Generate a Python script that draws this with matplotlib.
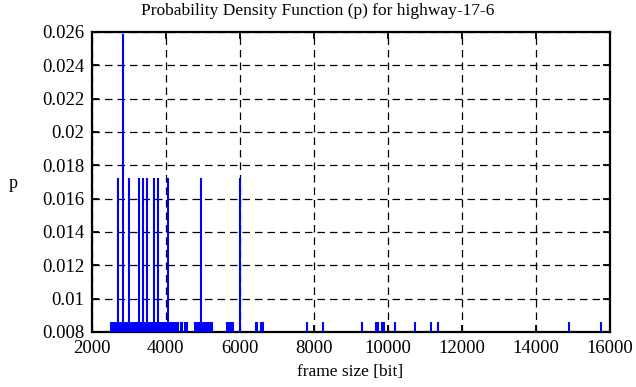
import matplotlib
matplotlib.use("Agg")
import matplotlib.pyplot as plt

title = "Probability Density Function (p) for highway-17-6"
xlabel = "frame size [bit]"
ylabel = "p"

# frame sizes [bit] by probability level
p_levels = [0.00862, 0.01724, 0.02586]
sizes_single = [2530, 2560, 2590, 2620, 2650, 2680, 2740, 2770,
                2790, 2815, 2870, 2900, 2930, 2960, 3030, 3060, 3090, 3120, 3150, 3190,
                3265, 3300, 3330, 3360, 3420, 3450, 3520, 3550, 3580, 3610, 3640,
                3710, 3740, 3770, 3840, 3870, 3895,
                3945, 3975, 4005, 4035, 4090, 4120, 4150, 4180, 4210, 4240, 4270, 4300, 4330,
                4420, 4450, 4540, 4585,
                4800, 4830, 4860, 4890, 4920, 4975, 5025, 5075,
                5135, 5165, 5195, 5225, 5250, 5675, 5715, 5775, 5820,
                6450, 6480, 6580, 6610, 6640,
                7817, 8249, 9312, 9685, 9715, 9750, 9862, 9912, 10195, 10736,
                11177, 11358, 14899, 15764]
sizes_double = [2708, 3000, 3284, 3392, 3487, 3676, 3803, 4060, 4952, 6014]
sizes_triple = [2843]

xticks = [2000, 4000, 6000, 8000, 10000, 12000, 14000, 16000]
yticks = [0.008, 0.01, 0.012, 0.014, 0.016, 0.018, 0.02, 0.022, 0.024, 0.026]
ytick_labels = ["0.008", "0.01", "0.012", "0.014", "0.016", "0.018", "0.02",
                "0.022", "0.024", "0.026"]

plt.rcParams['font.family'] = ['Liberation Serif', 'DejaVu Serif']
fig = plt.figure(figsize=(6.36, 3.87), dpi=100)
ax = fig.add_axes([91.5 / 636, 55 / 387, 518 / 636, 300 / 387])

for sizes, p in zip([sizes_single, sizes_double, sizes_triple], p_levels):
    ax.vlines(sizes, 0, p, colors="#0000ff", linewidth=1.5, zorder=3)

ax.set_xlim(2000, 16000)
ax.set_ylim(0.008, 0.026)
ax.set_xticks(xticks)
ax.set_xticklabels([str(t) for t in xticks])
ax.set_yticks(yticks)
ax.set_yticklabels(ytick_labels)
ax.grid(True, color="black", linestyle=(0, (6, 4)), linewidth=0.9)
ax.set_axisbelow(True)
ax.tick_params(direction="in", length=5, width=1.3, top=True, right=True,
               labelsize=13.5, colors="black")
ax.tick_params(axis="y", pad=5)
ax.tick_params(axis="x", pad=6)
for s in ax.spines.values():
    s.set_linewidth(1.6)
fig.text(318 / 636, 1 - 11 / 387, title, fontsize=12.5, ha="center", va="center")
ax.set_xlabel(xlabel, fontsize=12.5, labelpad=5)
fig.text(13 / 636, 1 - 184 / 387, ylabel, fontsize=13, ha="center", va="center")

fig.savefig("out.png", dpi=100)
